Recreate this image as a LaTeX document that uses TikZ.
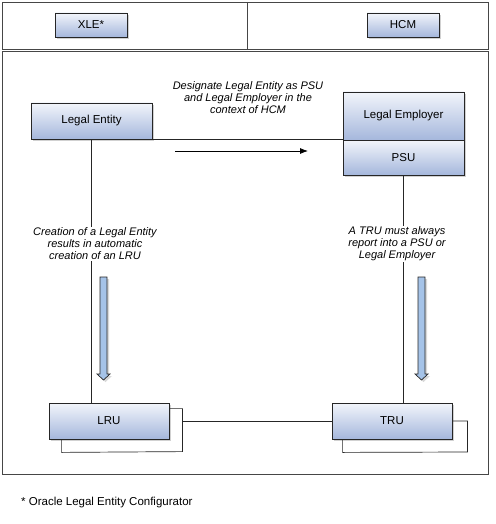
\documentclass[tikz,border=0pt]{standalone}
\usepackage{fontspec}
\setmainfont{Liberation Sans}
\usetikzlibrary{shadows,arrows.meta,calc}
\definecolor{frame}{RGB}{70,70,70}
\definecolor{boxtop}{RGB}{242,245,251}
\definecolor{boxbot}{RGB}{165,183,220}
\definecolor{arrowfill}{RGB}{165,195,232}
\tikzset{
  box/.style={draw=black!85, line width=0.8pt, top color=boxtop, bottom color=boxbot,
    drop shadow={shadow xshift=2pt, shadow yshift=-2pt, fill=black!30, opacity=0.6},
    inner sep=0pt, font=\fontsize{11.5}{13}\selectfont},
  conn/.style={draw=black!85, line width=0.7pt},
  note/.style={fill=white, align=center, inner sep=1pt, font=\itshape\fontsize{11}{12}\selectfont},
  blockarrow/.style={draw=black!85, line width=0.7pt, fill=arrowfill,
    drop shadow={shadow xshift=2pt, shadow yshift=-2pt, fill=black!25, opacity=0.6}},
  framebox/.style={draw=frame, line width=0.9pt}
}
\begin{document}
\begin{tikzpicture}[x=1pt,y=-1pt]
\useasboundingbox (0,0) rectangle (495,524);
% frames
\draw[framebox] (2,2) rectangle (488,49);
\draw[framebox] (247,2) -- (247,49);
\draw[framebox] (2,51) rectangle (488,474);
% header boxes
\node[box, minimum width=72pt, minimum height=24pt] (xle) at (91,25) {XLE*};
\node[box, minimum width=72pt, minimum height=24pt] (hcm) at (403,25) {HCM};
% main boxes
\node[box, minimum width=121pt, minimum height=36pt] (le) at (91.5,121) {Legal Entity};
\node[box, minimum width=121pt, minimum height=48pt] (lemp) at (403.5,116) {Legal Employer};
\node[box, minimum width=121pt, minimum height=35pt] (psu) at (403.5,157.5) {PSU};
\node[box, minimum width=120pt, minimum height=36pt] (lru) at (109,421) {LRU};
\node[box, minimum width=120pt, minimum height=36pt] (tru) at (392,421) {TRU};
% connectors
\draw[conn] (le.south east) -- (le.south east -| lemp.west);
\draw[conn] (le.south) -- (le.south |- lru.north);
\draw[conn] (psu.south) -- (psu.south |- tru.north);
% LRU loop
\coordinate (lruloop) at ($(lru.east)+(13,0)$);
\draw[conn] ($(lru.north east)+(0,6)$) -- ++(13,0) -- ++(0,43) -- ($(lru.south west)+(13,13)$) -- ($(lru.south west)+(13,0)$);
\draw[conn] (lruloop) -- (tru.west);
% TRU loop
\draw[conn] (tru.east) -- ++(15,0) -- ++(0,31) -- ($(tru.south west)+(11,13)$) -- ($(tru.south west)+(11,0)$);
% notes
\node[note] (n1) at (248,98) {Designate Legal Entity as PSU\\and Legal Employer in the\\context of HCM};
\node[note] (n2) at (95,244) {Creation of a Legal Entity\\results in automatic\\creation of an LRU};
\node[note] (n3) at (397,244) {A TRU must always\\report into a PSU or\\Legal Employer};
% horizontal arrow
\coordinate (ha1) at (175,151);
\coordinate (ha2) at (308,151);
\draw[line width=0.8pt, -{Latex[length=8pt,width=6pt]}] (ha1) -- (ha2);
% block arrows
\draw[blockarrow] (100,277) -- (107,277) -- (107,374) -- (110,374) -- (103.5,380) -- (97,374) -- (100,374) -- cycle;
\draw[blockarrow] (418,277) -- (425,277) -- (425,374) -- (428,374) -- (421.5,380) -- (415,374) -- (418,374) -- cycle;
% footnote
\node[anchor=west, inner sep=0pt, font=\fontsize{11.5}{13}\selectfont] (fn) at (21,503) {* Oracle Legal Entity Configurator};
\end{tikzpicture}
\end{document}
